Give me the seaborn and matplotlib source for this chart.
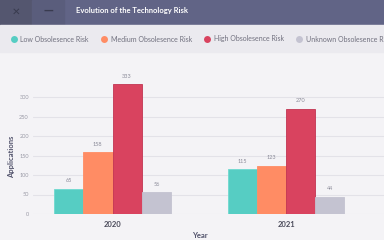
import matplotlib
matplotlib.use("Agg")
import matplotlib.pyplot as plt
import seaborn as sns
import pandas as pd
from matplotlib.patches import Rectangle
from matplotlib.lines import Line2D

years = ["2020", "2021"]
risks = ["Low Obsolesence Risk", "Medium Obsolesence Risk", "High Obsolesence Risk", "Unknown Obsolesence Risk"]
low = [65, 115]
medium = [158, 123]
high = [333, 270]
unknown = [56, 44]
colors = ["#56cdc3", "#ff8c64", "#d9435f", "#c4c3d1"]
edges = ["#6fdad0", "#ff8c64", "#c23552", "#c4c3d1"]
yticks = [0, 50, 100, 150, 200, 250, 300]

rows = []
for r, vals in zip(risks, [low, medium, high, unknown]):
    for y, v in zip(years, vals):
        rows.append({"Year": y, "Risk": r, "Applications": v})
df = pd.DataFrame(rows)

sns.set_theme(style="white")
plt.rcParams["font.family"] = ["Lato", "DejaVu Sans"]

W, H = 384, 240
fig = plt.figure(figsize=(W / 100, H / 100), dpi=100)
fig.patch.set_facecolor("#f4f3f6")

def px(x0, y0, w, h, color):
    fig.patches.append(Rectangle((x0 / W, 1 - (y0 + h) / H), w / W, h / H,
                                 transform=fig.transFigure, color=color, zorder=0))

# title bar
px(0, 0, W, 25, "#616486")
px(0, 0, 32, 25, "#54566f")
px(32, 0, 32, 25, "#5a5d7c")
px(0, 25, W, 27, "#ebeaef")
fig.text(16 / W, 1 - 11.5 / H, "✕", color="#393b4f", fontsize=7.5, ha="center", va="center",
         family=["DejaVu Sans"], fontweight="bold")
fig.text(48 / W, 1 - 11 / H, "—", color="#393b4f", fontsize=7, ha="center", va="center",
         fontweight="bold", family=["DejaVu Sans"])
fig.text(76 / W, 1 - 11 / H, "Evolution of the Technology Risk", color="white",
         fontsize=5.5, fontweight="bold", ha="left", va="center")

ax_left, ax_right, ax_bottom, ax_top = 33, 384, 214, 60
ax = fig.add_axes([ax_left / W, 1 - ax_bottom / H, (ax_right - ax_left) / W, (ax_bottom - ax_top) / H])
ax.set_facecolor("#f4f3f6")

sns.barplot(data=df, x="Year", y="Applications", hue="Risk", hue_order=risks, order=years,
            palette=colors, width=0.674, saturation=1, ax=ax, legend=False, errorbar=None,
            linewidth=0.6, zorder=3)
for c, ec in zip(ax.containers, edges):
    for p in c:
        p.set_edgecolor(ec)

px_per_unit_x = 173.5
ax.set_xlim((ax_left - 112.5) / px_per_unit_x, (ax_right - 112.5) / px_per_unit_x)
ax.set_ylim(0, (ax_bottom - ax_top) / 0.39)
ax.set_yticks(yticks)
ax.yaxis.grid(True, color="#e3e2e8", linewidth=0.8, zorder=0)
ax.set_axisbelow(True)
for s in ax.spines.values():
    s.set_visible(False)
ax.tick_params(axis="y", length=0, pad=3, labelsize=4, labelcolor="#9a9aa6")
ax.tick_params(axis="x", length=0, pad=5, labelsize=5.5, labelcolor="#4a4a5a")
for t in ax.get_xticklabels():
    t.set_fontweight("bold")
ax.set_xlabel("")
ax.set_ylabel("")

for c in ax.containers:
    ax.bar_label(c, padding=4, fontsize=4, color="#8a8a98")

fig.text(12 / W, 1 - 157 / H, "Applications", rotation=90, ha="center", va="center",
         fontsize=5.5, fontweight="bold", color="#50516a")
fig.text(200 / W, 1 - 235 / H, "Year", ha="center", va="center",
         fontsize=5.5, fontweight="bold", color="#50516a")

handles = [Line2D([], [], marker="o", linestyle="none", markersize=5,
                  markerfacecolor=c, markeredgecolor="none") for c in colors]
leg = fig.legend(handles, risks, loc="center left", bbox_to_anchor=(8 / W, 1 - 39 / H),
                 ncol=4, frameon=False, fontsize=5, handlelength=0.8, handletextpad=0.6,
                 columnspacing=1.75, borderaxespad=0)
for t in leg.get_texts():
    t.set_color("#70707e")

fig.savefig("out.png", dpi=100, facecolor=fig.get_facecolor())
